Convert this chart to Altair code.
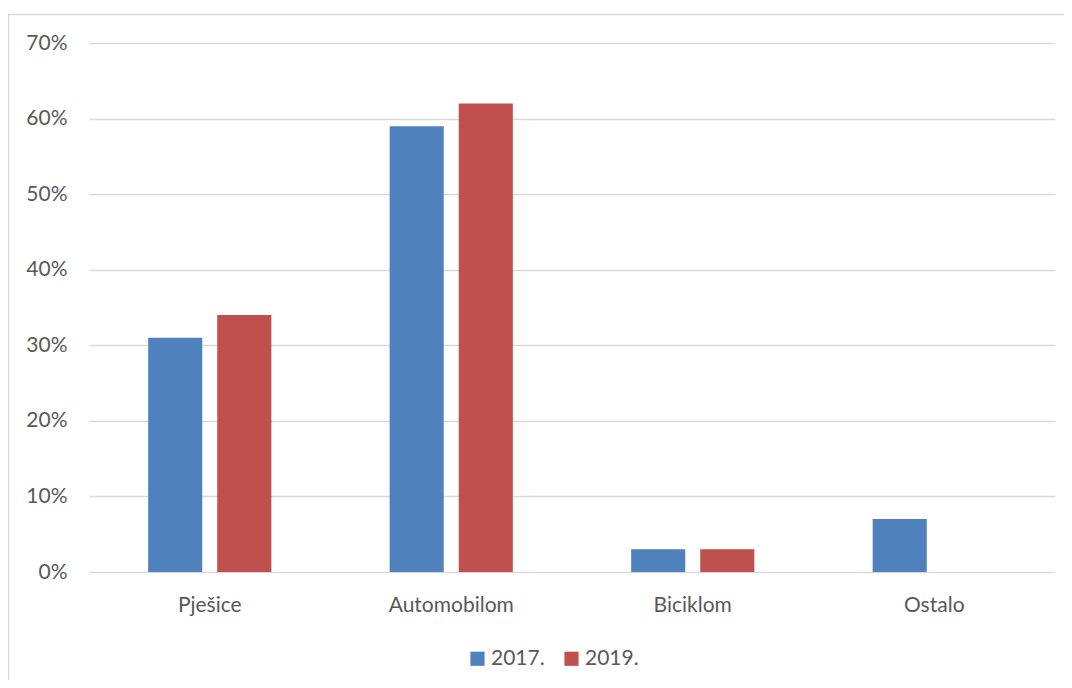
import altair as alt
import pandas as pd

categories = ["Pješice", "Automobilom", "Biciklom", "Ostalo"]
years = ["2017.", "2019."]
values_2017 = [0.31, 0.59, 0.03, 0.07]
values_2019 = [0.34, 0.62, 0.03, None]
colors = ["#4F81BD", "#C0504D"]

rows = []
for c, v in zip(categories, values_2017):
    rows.append({"cat": c, "year": years[0], "val": v})
for c, v in zip(categories, values_2019):
    if v is not None:
        rows.append({"cat": c, "year": years[1], "val": v})
df = pd.DataFrame(rows)

FONT = "Lato"
TXT = "#595959"
FS = 21

bars = alt.Chart(df).mark_bar().encode(
    x=alt.X("cat:N", sort=categories, title=None,
            scale=alt.Scale(paddingInner=0.49, paddingOuter=0.245),
            axis=alt.Axis(labelAngle=0, ticks=False, domain=False, labelPadding=22,
                          labelFontSize=FS, labelColor=TXT, labelFont=FONT, grid=False)),
    xOffset=alt.XOffset("year:N", sort=years,
                        scale=alt.Scale(paddingInner=0.217, paddingOuter=0)),
    y=alt.Y("val:Q", title=None,
            scale=alt.Scale(domain=[0, 0.7], nice=False),
            axis=alt.Axis(format=".0%", values=[0, 0.1, 0.2, 0.3, 0.4, 0.5, 0.6, 0.7],
                          ticks=False, domain=False, labelPadding=22,
                          labelFontSize=FS, labelColor=TXT, labelFont=FONT,
                          gridColor="#D9D9D9", gridWidth=1.5)),
    color=alt.Color("year:N", sort=years,
                    scale=alt.Scale(domain=years, range=colors),
                    legend=alt.Legend(title=None, orient="none", direction="horizontal",
                                      legendX=378, legendY=605, symbolType="square",
                                      symbolSize=200, symbolStrokeWidth=0,
                                      labelFontSize=FS, labelColor=TXT, labelFont=FONT,
                                      columnPadding=16, labelOffset=3, padding=0)),
)

frame = pd.DataFrame({"k": [0]})
top_line = alt.Chart(frame).mark_rule(color="#D9D9D9", strokeWidth=1.5).encode(
    x=alt.value(-81), x2=alt.value(1000), y=alt.value(-28.5))
left_line = alt.Chart(frame).mark_rule(color="#D9D9D9", strokeWidth=1.5).encode(
    x=alt.value(-80.5), y=alt.value(-29), y2=alt.value(700))

chart = alt.layer(bars, top_line, left_line).properties(
    width=966, height=529,
    autosize=alt.AutoSizeParams(type="none"),
    padding={"left": 81, "top": 35, "right": 9, "bottom": 108},
).configure_view(stroke=None)

chart.save("out.html", embed_options={"renderer": "svg", "actions": False})
